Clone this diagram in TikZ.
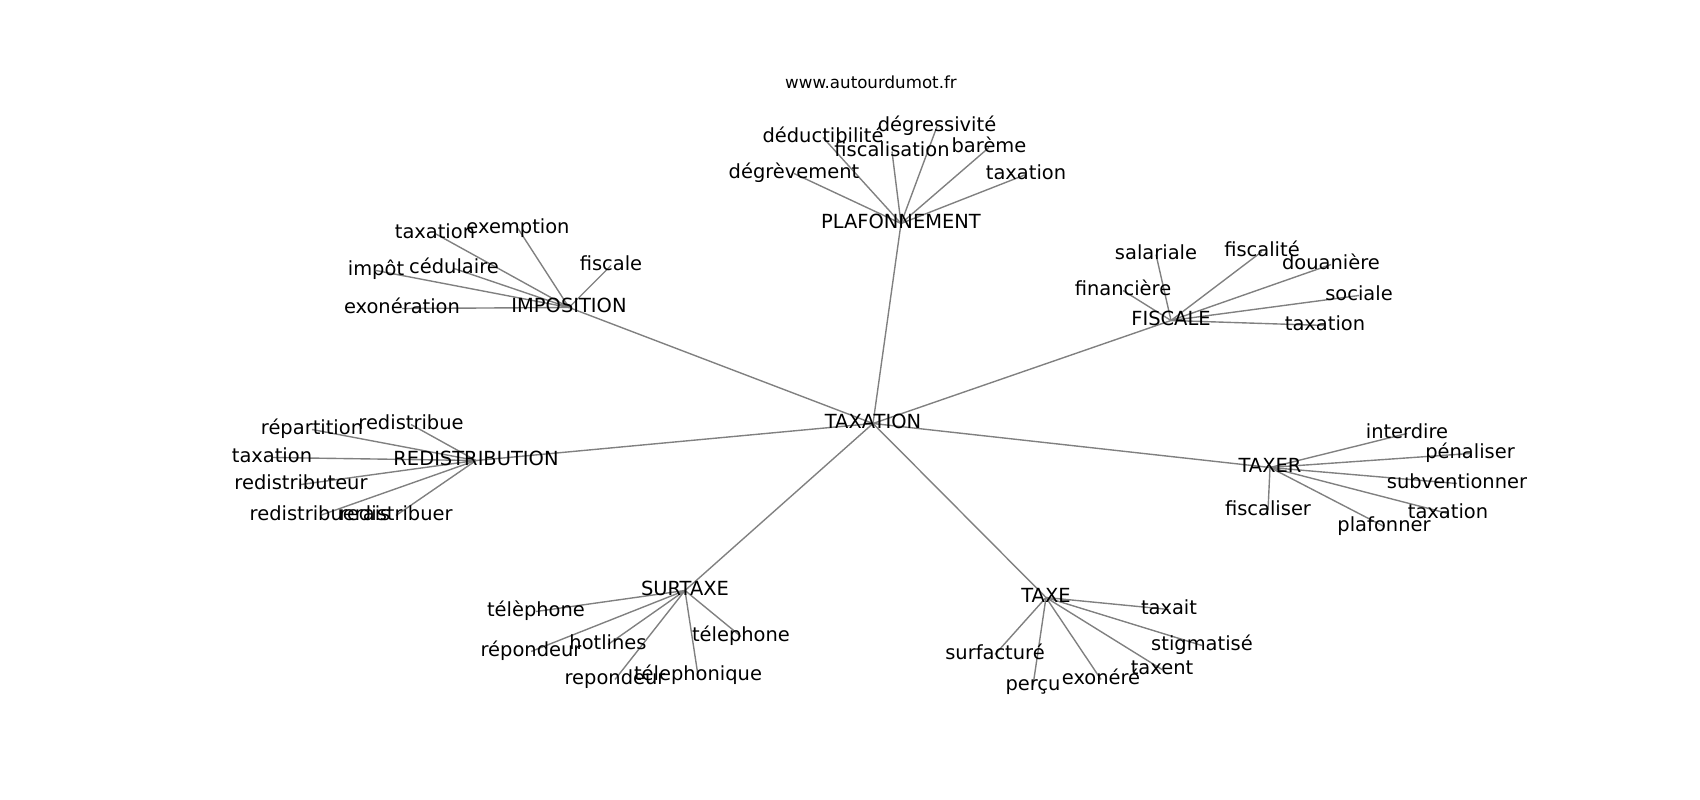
\documentclass[tikz,border=0pt]{standalone}
\usepackage{fontspec}
\setmainfont{DejaVu Sans}
\usepackage{tikz}
\usetikzlibrary{backgrounds}
\tikzset{word/.style={inner sep=0pt,text height=10bp,text depth=3bp,font=\fontsize{14bp}{16bp}\selectfont}}
\tikzset{link/.style={draw=black!50,line width=1bp}}

\begin{document}
\begin{tikzpicture}
[x=0.01in, y=-0.01in, site/.style={inner sep=0pt,font=\fontsize{12bp}{14bp}\selectfont}]
\useasboundingbox (0,-2.5) rectangle (1700,797.5);
\node (site) at (871,80)[site]{www.autourdumot.fr};

\node (tax) at (873,421)[word]{TAXATION};
\node (plaf) at (901,221)[word]{PLAFONNEMENT};
\node (impo) at (569,305)[word]{IMPOSITION};
\node (fisc) at (1171,318)[word]{FISCALE};
\node (redis) at (476,458)[word]{REDISTRIBUTION};
\node (taxer) at (1270,465)[word]{TAXER};
\node (surt) at (685,588)[word]{SURTAXE};
\node (taxe) at (1046,595)[word]{TAXE};

% plafonnement
\node (degress) at (937,124)[word]{dégressivité};
\node (deduct) at (823,135)[word]{déductibilité};
\node (fiscalis) at (892,149)[word]{fiscalisation};
\node (bareme) at (989,145)[word]{barème};
\node (degrev) at (794,171)[word]{dégrèvement};
\node (taxP) at (1026,172)[word]{taxation};

% imposition
\node (taxI) at (435,231)[word]{taxation};
\node (exempt) at (518,226)[word]{exemption};
\node (fiscI) at (611,263)[word]{fiscale};
\node (impot) at (376,268)[word]{impôt};
\node (cedul) at (454,266)[word]{cédulaire};
\node (exon) at (402,306)[word]{exonération};

% fiscale
\node (salar) at (1156,252)[word]{salariale};
\node (fiscalite) at (1262,249)[word]{fiscalité};
\node (douan) at (1331,262)[word]{douanière};
\node (financ) at (1123,288)[word]{financière};
\node (social) at (1359,293)[word]{sociale};
\node (taxF) at (1325,323)[word]{taxation};

% redistribution
\node (repart) at (312,427)[word]{répartition};
\node (redisA) at (411,422)[word]{redistribue};
\node (taxR) at (272,455)[word]{taxation};
\node (redisB) at (301,482)[word]{redistributeur};
\node (redisC) at (320,513)[word]{redistribuerais};
\node (redisD) at (396,513)[word]{redistribuer};

% taxer
\node (interd) at (1407,431)[word]{interdire};
\node (penal) at (1470,451)[word]{pénaliser};
\node (subv) at (1457,481)[word]{subventionner};
\node (fiscaliser) at (1268,508)[word]{fiscaliser};
\node (taxT) at (1448,511)[word]{taxation};
\node (plafonner) at (1384,524)[word]{plafonner};

% surtaxe
\node (telA) at (536,609)[word]{télèphone};
\node (repA) at (531,649)[word]{répondeur};
\node (hotl) at (608,642)[word]{hotlines};
\node (telB) at (741,634)[word]{télephone};
\node (repB) at (615,677)[word]{repondeur};
\node (telC) at (698,673)[word]{télephonique};

% taxe
\node (taxait) at (1169,607)[word]{taxait};
\node (stigm) at (1202,643)[word]{stigmatisé};
\node (surf) at (995,652)[word]{surfacturé};
\node (taxent) at (1162,667)[word]{taxent};
\node (percu) at (1033,683)[word]{perçu};
\node (exonere) at (1101,677)[word]{exonéré};

\begin{scope}[on background layer]
\draw[link] (tax.center) -- (plaf.center);
\draw[link] (tax.center) -- (impo.center);
\draw[link] (tax.center) -- (fisc.center);
\draw[link] (tax.center) -- (redis.center);
\draw[link] (tax.center) -- (taxer.center);
\draw[link] (tax.center) -- (surt.center);
\draw[link] (tax.center) -- (taxe.center);

\draw[link] (plaf.center) -- (degress.center);
\draw[link] (plaf.center) -- (deduct.center);
\draw[link] (plaf.center) -- (fiscalis.center);
\draw[link] (plaf.center) -- (bareme.center);
\draw[link] (plaf.center) -- (degrev.center);
\draw[link] (plaf.center) -- (taxP.center);

\draw[link] (impo.center) -- (taxI.center);
\draw[link] (impo.center) -- (exempt.center);
\draw[link] (impo.center) -- (fiscI.center);
\draw[link] (impo.center) -- (impot.center);
\draw[link] (impo.center) -- (cedul.center);
\draw[link] (impo.center) -- (exon.center);

\draw[link] (fisc.center) -- (salar.center);
\draw[link] (fisc.center) -- (fiscalite.center);
\draw[link] (fisc.center) -- (douan.center);
\draw[link] (fisc.center) -- (financ.center);
\draw[link] (fisc.center) -- (social.center);
\draw[link] (fisc.center) -- (taxF.center);

\draw[link] (redis.center) -- (repart.center);
\draw[link] (redis.center) -- (redisA.center);
\draw[link] (redis.center) -- (taxR.center);
\draw[link] (redis.center) -- (redisB.center);
\draw[link] (redis.center) -- (redisC.center);
\draw[link] (redis.center) -- (redisD.center);

\draw[link] (taxer.center) -- (interd.center);
\draw[link] (taxer.center) -- (penal.center);
\draw[link] (taxer.center) -- (subv.center);
\draw[link] (taxer.center) -- (fiscaliser.center);
\draw[link] (taxer.center) -- (taxT.center);
\draw[link] (taxer.center) -- (plafonner.center);

\draw[link] (surt.center) -- (telA.center);
\draw[link] (surt.center) -- (repA.center);
\draw[link] (surt.center) -- (hotl.center);
\draw[link] (surt.center) -- (telB.center);
\draw[link] (surt.center) -- (repB.center);
\draw[link] (surt.center) -- (telC.center);

\draw[link] (taxe.center) -- (taxait.center);
\draw[link] (taxe.center) -- (stigm.center);
\draw[link] (taxe.center) -- (surf.center);
\draw[link] (taxe.center) -- (taxent.center);
\draw[link] (taxe.center) -- (percu.center);
\draw[link] (taxe.center) -- (exonere.center);
\end{scope}
\end{tikzpicture}
\end{document}
